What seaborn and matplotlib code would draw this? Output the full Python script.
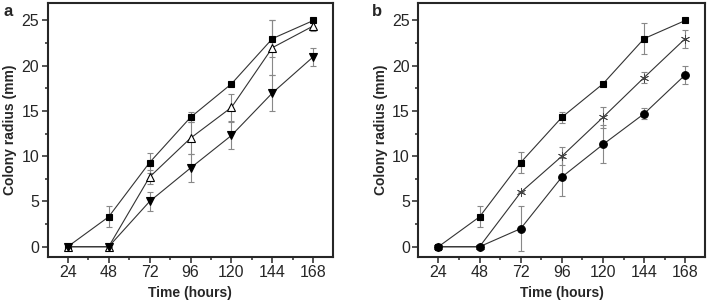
import seaborn as sns
import pandas as pd
import numpy as np
import matplotlib.pyplot as plt
from matplotlib.ticker import MultipleLocator

hours = [24, 48, 72, 96, 120, 144, 168]

# panel a
a_sq = [0, 3.3, 9.3, 14.3, 18.0, 23.0, 25.0]
a_sq_err = [0, 1.15, 1.1, 0.55, 0.15, 2.0, 0.15]
a_tri = [0, 0, 7.7, 12.0, 15.4, 22.0, 24.4]
a_tri_err = [0, 0, 0.8, 1.8, 1.5, 3.0, 0.6]
a_dtri = [0, 0, 5.0, 8.7, 12.3, 17.0, 21.0]
a_dtri_err = [0, 0, 1.0, 1.5, 1.5, 2.0, 1.0]

# panel b
b_sq = [0, 3.3, 9.3, 14.3, 18.0, 23.0, 25.0]
b_sq_err = [0, 1.15, 1.2, 0.6, 0.15, 1.7, 0.15]
b_star = [0, 0, 6.0, 10.0, 14.3, 18.7, 23.0]
b_star_err = [0, 0, 0.1, 1.0, 1.15, 0.6, 1.0]
b_circ = [0, 0, 2.0, 7.7, 11.3, 14.7, 19.0]
b_circ_err = [0, 0, 2.5, 2.1, 2.1, 0.6, 1.0]

sns.set_style('ticks')
plt.rcParams['font.family'] = ['Liberation Sans', 'DejaVu Sans']

fig = plt.figure(figsize=(7.09, 3.04), dpi=100)
ax_a = fig.add_axes([47.7 / 709, 1 - 256.7 / 304, (333 - 47.7) / 709, (256.7 - 3.3) / 304])
ax_b = fig.add_axes([418.3 / 709, 1 - 256.7 / 304, (705 - 418.3) / 709, (256.7 - 3.3) / 304])

panels = [
    (ax_a, 'a', [('sq', a_sq, a_sq_err), ('tri', a_tri, a_tri_err), ('dtri', a_dtri, a_dtri_err)]),
    (ax_b, 'b', [('sq', b_sq, b_sq_err), ('star', b_star, b_star_err), ('circ', b_circ, b_circ_err)]),
]
mk = {'sq': 's', 'tri': '^', 'dtri': 'v', 'star': (6, 2, 0), 'circ': 'o'}
face = {'sq': 'black', 'tri': 'white', 'dtri': 'black', 'star': 'black', 'circ': 'black'}
msize = {'sq': 5, 'tri': 6, 'dtri': 6, 'star': 6.5, 'circ': 5.5}
medge = {'sq': 0.8, 'tri': 0.8, 'dtri': 0.8, 'star': 0.6, 'circ': 0.8}
mcol = {'sq': 'black', 'tri': 'black', 'dtri': 'black', 'star': '#444444', 'circ': 'black'}

for ax, letter, series in panels:
    for name, vals, errs in series:
        ax.errorbar(hours, vals, yerr=errs, fmt='none', ecolor='#888888',
                    elinewidth=0.8, capsize=2.2, capthick=0.8, zorder=1)
        df = pd.DataFrame({'t': hours, 'r': vals})
        sns.lineplot(data=df, x='t', y='r', ax=ax, color='#333333', linewidth=0.8,
                     marker=mk[name], markersize=msize[name], markerfacecolor=face[name],
                     markeredgecolor=mcol[name], markeredgewidth=medge[name], zorder=3)
    ax.set_xlim(12.3, 179.5)
    ax.set_ylim(-1.1, 26.9)
    ax.set_xticks(hours)
    ax.xaxis.set_minor_locator(MultipleLocator(12))
    ax.set_yticks([0, 5, 10, 15, 20, 25])
    ax.yaxis.set_minor_locator(MultipleLocator(2.5))
    ax.tick_params(which='major', direction='out', length=4, width=1.1, labelsize=11.5, pad=2)
    ax.tick_params(which='minor', direction='out', length=2.5, width=1.1)
    for s in ax.spines.values():
        s.set_linewidth(1.5)
    ax.set_xlabel('Time (hours)', fontsize=10, fontweight='bold', labelpad=4)
    ax.set_ylabel('Colony radius (mm)', fontsize=10, fontweight='bold', labelpad=3)

fig.text(3 / 709, 1 - 12 / 304, 'a', fontsize=12, fontweight='bold', va='center')
fig.text(372 / 709, 1 - 12 / 304, 'b', fontsize=12, fontweight='bold', va='center')

fig.savefig('out.png', dpi=100)
